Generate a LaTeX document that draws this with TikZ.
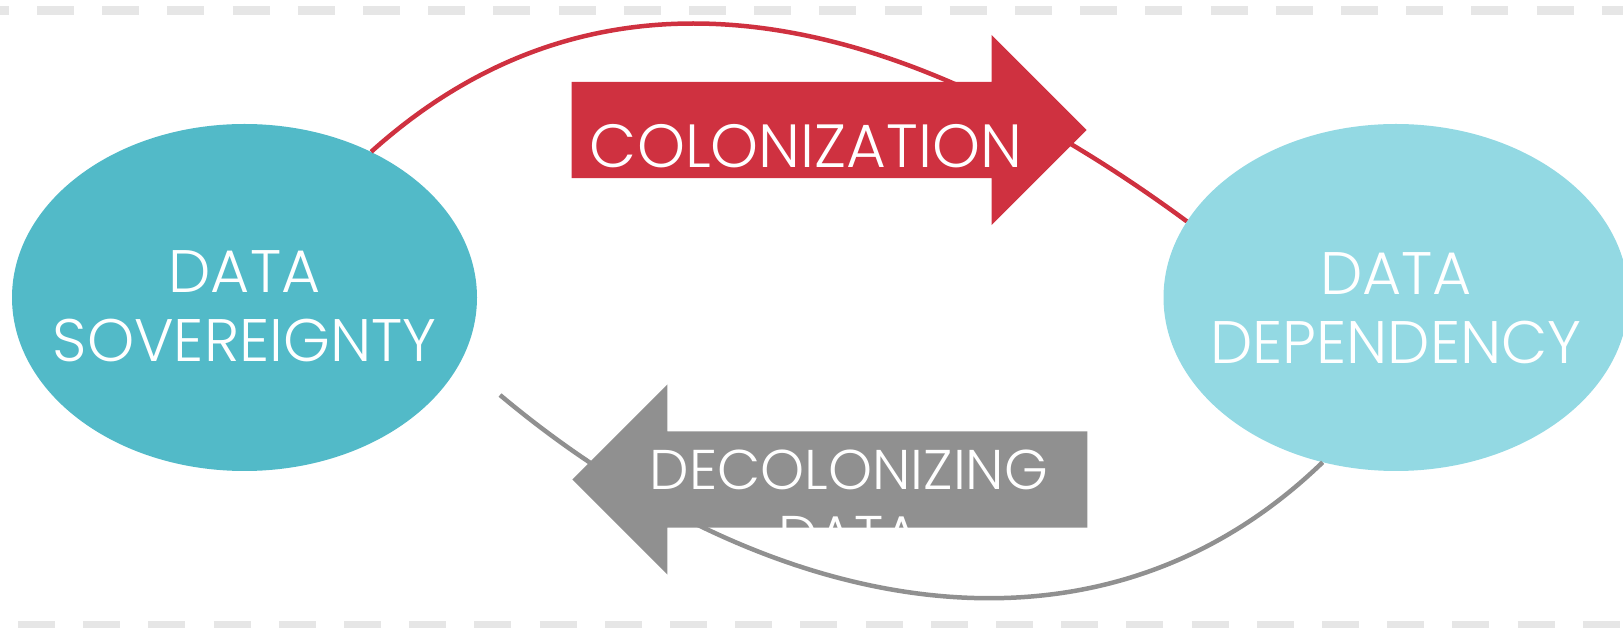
\documentclass[tikz,border=0pt]{standalone}
\usepackage{fontspec}
\IfFontExistsTF{Poppins Light}{\setmainfont{Poppins Light}}{\setmainfont{Poppins}}
\usepackage{tikz}
\usetikzlibrary{calc,shapes}
\definecolor{sovteal}{RGB}{82,186,200}
\definecolor{depcyan}{RGB}{147,217,227}
\definecolor{colred}{RGB}{207,49,64}
\definecolor{decgray}{RGB}{144,144,144}
\definecolor{dashgray}{RGB}{230,230,230}

\begin{document}
\begin{tikzpicture}[x=1pt,y=1pt,
blob/.style={ellipse,minimum width=465pt,minimum height=347pt,inner sep=0pt},
lbl/.style={text=white,align=center,inner sep=0pt,font=\fontsize{60}{69}\selectfont},
band/.style={single arrow,single arrow tip angle=90,single arrow head extend=47pt,minimum height=515pt,inner xsep=0pt,inner ysep=48pt,anchor=tip},
border/.style={dashgray,line width=9pt,dash pattern=on 37pt off 28.2pt},
link/.style={line width=4.5pt}]
	\useasboundingbox (0,0) rectangle (1623,627);
	%dashed borders
	\draw[border] (-28.3,616.5) -- (1660,616.5);
	\draw[border] (-47.2,2) -- (1660,2);

	%the two states
	\node[blob,fill=sovteal] at (244.5,329.5) (sov) {};
	\node[blob,fill=depcyan] at (1396,329.5) (dep) {};
	\node[lbl] at ([yshift=-8.5pt]sov.center) (sovtext) {DATA\\SOVEREIGNTY};
	\node[lbl] at ([yshift=-11pt]dep.center) (deptext) {DATA\\DEPENDENCY};

	%cycle lines
	\coordinate (decstart) at (500,232);
	\draw[link,colred] (sov.49) to[out=42,in=143.6,looseness=1.04] (dep.160);
	\draw[link,decgray] (decstart) to[out=-40,in=224,looseness=1.02] (dep.246);

	%arrows
	\node[band,fill=colred] at (1087,497) (colarrow) {};
	\node[band,fill=decgray,shape border rotate=180] at (572,147.5) (decarrow) {};
	\node[lbl,font=\fontsize{61}{69}\selectfont] at (806,481) (coltext) {COLONIZATION};
	\begin{scope}
		\clip ($(decarrow.tip)+(0,-48)$) rectangle ($(decarrow.tip)+(515,48)$);
		\node[lbl,font=\fontsize{56}{66}\selectfont] at (849,124.5) (dectext) {DECOLONIZING\\DATA};
	\end{scope}
\end{tikzpicture}
\end{document}
